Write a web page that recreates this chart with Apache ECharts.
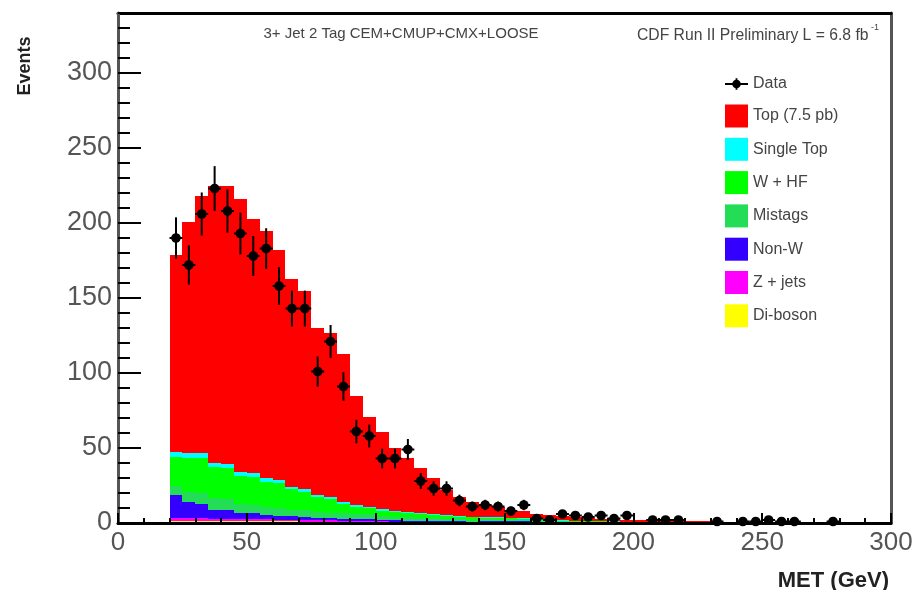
<!DOCTYPE html>
<html><head><meta charset="utf-8">
<script src="https://cdn.jsdelivr.net/npm/echarts@6/dist/echarts.min.js"></script>
<style>html,body{margin:0;padding:0;background:#fff}#c{width:917px;height:590px}</style>
</head><body><div id="c"></div>
<script>
// ---- data ----
const binStart = 20;   // GeV, lower edge of first bin
const binWidth = 5;    // GeV
const xTicks = [0, 50, 100, 150, 200, 250, 300];
const yTicks = [0, 50, 100, 150, 200, 250, 300];

// observed events per 5 GeV bin (20 ... 300 GeV)
const dataCounts = [190,172,206,223,208,193,178,183,158,143,143,101,121,91,61,58,43,43,49,28,
                    23,23,15,11,12,11,8,12,3,2,6,5,4,5,3,5,0,2,2,2,0,0,1,0,1,1,2,1,1,0,0,1,0,0,0,0];

// expected backgrounds per 5 GeV bin (20 ... 255 GeV)
const diboson   = [1.5,1.5,1.5,1.4,1.4,1.3,1.3,1.2,1.2,1.1,1.0,1.0,0.9,0.9,0.8,0.8,0.7,
                   0.5,0.5,0.45,0.4,0.4,0.35,0.35,0.6,0.7,0.7,0.7,0.6,0.5,0.2,
                   0.2,0.15,0.15,0.12,0.1,0.1,0.08,0.07,0.06,0.05,0.05,0.04,0.04,0.03,0.03,0.03];
const zjets     = [2.0,1.8,1.7,1.6,1.5,1.4,1.3,1.2,1.1,1.0,0.9,0.8,0.8,0.7,0.6,0.6,0.5,
                   0.4,0.35,0.3,0.3,0.25,0.25,0.2,0.2,0.2,0.15,0.15,0.1,0.1,0.1,
                   0.1,0.08,0.07,0.06,0.05,0.05,0.04,0.04,0.03,0.03,0.03,0.02,0.02,0.02,0.02,0.02];
const nonW      = [15.5,10.7,9.8,6.0,5.6,4.3,3.9,3.1,2.7,2.4,2.1,1.8,1.6,1.4,1.3,1.2,1.0,
                   0.9,0.8,0.7,0.6,0.5,0.45,0.4,0.35,0.3,0.3,0.25,0.2,0.2,0.15,
                   0.15,0.12,0.1,0.1,0.08,0.07,0.06,0.05,0.05,0.04,0.04,0.03,0.03,0.03,0.02,0.02];
const mistags   = [5.7,7.0,7.0,8.0,7.5,6.0,5.5,5.0,5.0,4.5,4.5,3.9,3.7,3.5,3.3,3.1,2.8,
                   2.5,2.3,2.1,1.9,1.7,1.5,1.3,1.2,1.1,1.0,0.9,0.8,0.7,0.6,
                   0.5,0.45,0.4,0.35,0.3,0.27,0.24,0.2,0.18,0.16,0.14,0.12,0.1,0.09,0.08,0.07];
const wHF       = [19.6,22.4,23.4,20.2,20.5,18.6,18.7,17.1,16.7,13.4,12.3,9.8,8.8,6.5,5.0,4.0,3.3,
                   3.0,2.7,2.4,2.1,1.9,1.7,1.5,1.3,1.2,1.0,0.9,0.8,0.7,0.6,
                   0.5,0.45,0.4,0.35,0.3,0.27,0.24,0.2,0.18,0.16,0.14,0.12,0.1,0.09,0.08,0.07];
const singleTop = [3.0,3.0,3.0,3.0,2.8,2.6,2.4,2.2,2.0,1.8,1.6,1.4,1.3,1.2,1.0,0.9,0.8,
                   0.7,0.6,0.55,0.5,0.45,0.4,0.35,0.3,0.3,0.25,0.2,0.2,0.15,0.15,
                   0.1,0.1,0.08,0.07,0.06,0.05,0.05,0.04,0.04,0.03,0.03,0.03,0.02,0.02,0.02,0.02];
const topPair   = [131.7,154.6,171.6,184.8,185.7,181.8,169.9,165.2,153.3,138.8,132.6,111.3,109.9,98.8,73.0,60.4,51.9,
                   42.0,35.8,30.5,24.2,16.8,12.4,9.9,8.1,7.2,5.6,4.9,3.3,2.7,2.7,
                   2.45,2.15,1.8,1.45,1.3,1.2,1.0,0.9,0.8,0.7,0.6,0.5,0.45,0.4,0.35,0.3];

const componentNames  = ['Di-boson','Z + jets','Non-W','Mistags','W + HF','Single Top','Top (7.5 pb)'];
const componentValues = [diboson, zjets, nonW, mistags, wHF, singleTop, topPair];
const componentColors = ['#ffff00','#ff00ff','#3300ff','#22dd55','#00ff00','#00ffff','#ff0000'];

// ---- build chart ----
const chart = echarts.init(document.getElementById('c'), null, {renderer:'canvas'});

function rectRender(color){
  return function(params, api){
    const p0 = api.coord([api.value(0), api.value(3)]);
    const p1 = api.coord([api.value(1), api.value(2)]);
    const x = Math.round(p0[0]), y = Math.round(p0[1]);
    const w = Math.round(p1[0]) - x, h = Math.round(p1[1]) - y;
    if (h <= 0) return null;
    return {type:'rect', shape:{x:x, y:y, width:w, height:h}, style:{fill:color}};
  };
}

const cum = new Array(topPair.length).fill(0);
const stackSeries = componentValues.map(function(vals, k){
  const d = vals.map(function(v, i){
    const lo = binStart + i*binWidth;
    const b = cum[i]; cum[i] += v;
    return [lo, lo + binWidth, b, cum[i]];
  });
  return {
    type:'custom', name: componentNames[k], data: d,
    encode:{x:[0,1], y:[2,3]},
    itemStyle:{color: componentColors[k]},
    renderItem: rectRender(componentColors[k]),
    silent:true, z:2
  };
});

const dataPoints = dataCounts.map(function(v, i){ return [binStart + i*binWidth + binWidth/2, v]; })
                             .filter(function(d){ return d[1] > 0; });

const dataSeries = {
  type:'custom', name:'Data', data: dataPoints, encode:{x:0, y:1},
  itemStyle:{color:'#000'}, z:20, silent:true,
  renderItem: function(params, api){
    const x = api.value(0), y = api.value(1), e = Math.sqrt(y);
    const c = api.coord([x, y]);
    const t = api.coord([x, y + e]);
    const b = api.coord([x, Math.max(0, y - e)]);
    const l = api.coord([x - binWidth/2, y]);
    const r = api.coord([x + binWidth/2, y]);
    return {type:'group', children:[
      {type:'line', shape:{x1:c[0], y1:t[1], x2:c[0], y2:b[1]}, style:{stroke:'#000', lineWidth:2}},
      {type:'line', shape:{x1:l[0], y1:c[1], x2:r[0], y2:c[1]}, style:{stroke:'#000', lineWidth:2}},
      {type:'circle', shape:{cx:c[0], cy:c[1], r:4.8}, style:{fill:'#000'}}
    ]};
  }
};

const dataIcon = 'path://M0,5 L24,5 L24,7 L0,7 Z M11,0 L13,0 L13,12 L11,12 Z M7.5,6 A4.5,4.5 0 1,1 16.5,6 A4.5,4.5 0 1,1 7.5,6 Z';
const legendBoxes = ['Top (7.5 pb)','Single Top','W + HF','Mistags','Non-W','Z + jets','Di-boson'];

const labelFont = 'Liberation Sans, Arial, Helvetica, sans-serif';
const legendText = {fontSize:16, color:'#444', fontFamily:labelFont};

const option = {
  backgroundColor:'#fff',
  animation:false,
  grid:{left:118, right:26, top:13, bottom:67, containLabel:false, outerBoundsMode:'none'},
  xAxis:[
    {type:'value', min:xTicks[0], max:xTicks[xTicks.length-1], interval:xTicks[1]-xTicks[0], position:'bottom',
     axisLine:{show:true, onZero:false, lineStyle:{color:'#000', width:3}},
     axisTick:{show:true, inside:true, length:10, lineStyle:{color:'#000', width:2}},
     minorTick:{show:true, splitNumber:5, length:5, lineStyle:{color:'#000', width:2}},
     axisLabel:{fontSize:26, color:'#555', margin:7, fontFamily:labelFont},
     splitLine:{show:false}, minorSplitLine:{show:false}, z:10},
    {type:'value', min:0, max:300, position:'top',
     axisLine:{show:true, onZero:false, lineStyle:{color:'#000', width:3}},
     axisTick:{show:false}, axisLabel:{show:false}, splitLine:{show:false}}
  ],
  yAxis:[
    {type:'value', min:0, max:340, interval:yTicks[1]-yTicks[0], position:'left',
     axisLine:{show:true, onZero:false, lineStyle:{color:'#555', width:3}},
     axisTick:{show:true, inside:true, length:23, lineStyle:{color:'#000', width:2}},
     axisLabel:{fontSize:27, color:'#555', margin:6, showMaxLabel:false, fontFamily:labelFont},
     splitLine:{show:false}, z:10},
    {type:'value', min:0, max:340, interval:10, position:'left', offset:0,
     axisLine:{show:false},
     axisTick:{show:true, inside:true, length:12, lineStyle:{color:'#000', width:2}},
     axisLabel:{show:false}, splitLine:{show:false}, z:10},
    {type:'value', min:0, max:340, position:'right',
     axisLine:{show:true, onZero:false, lineStyle:{color:'#555', width:3}},
     axisTick:{show:false}, axisLabel:{show:false}, splitLine:{show:false}}
  ],
  legend:[
    {orient:'vertical', left:725, top:76, itemWidth:23, itemHeight:23, padding:0, selectedMode:false,
     textStyle:legendText, data:[{name:'Data', icon:dataIcon}]},
    {orient:'vertical', left:725, top:104.5, itemWidth:23, itemHeight:23, itemGap:10.3,
     padding:0, selectedMode:false, textStyle:legendText,
     data: legendBoxes.map(function(n){ return {name:n, icon:'rect'}; })}
  ],
  graphic:[
    {type:'text', x:25, y:66, rotation:Math.PI/2,
     style:{text:'Events', font:'bold 18px '+labelFont, fill:'#222', textAlign:'center', textVerticalAlign:'middle'}},
    {type:'text', x:889, y:592,
     style:{text:'MET (GeV)', font:'bold 22px '+labelFont, fill:'#222', textAlign:'right', textVerticalAlign:'bottom'}},
    {type:'text', x:401, y:34,
     style:{text:'3+ Jet 2 Tag CEM+CMUP+CMX+LOOSE', font:'15px '+labelFont, fill:'#444', textAlign:'center', textVerticalAlign:'middle'}},
    {type:'text', x:637, y:36,
     style:{text:'CDF Run II Preliminary L = 6.8 fb', font:'15.7px '+labelFont, fill:'#444', textAlign:'left', textVerticalAlign:'middle'}},
    {type:'text', x:871, y:28,
     style:{text:'-1', font:'9px '+labelFont, fill:'#444', textAlign:'left', textVerticalAlign:'middle'}}
  ],
  series: stackSeries.concat([dataSeries])
};
chart.setOption(option);
</script>
</body></html>
